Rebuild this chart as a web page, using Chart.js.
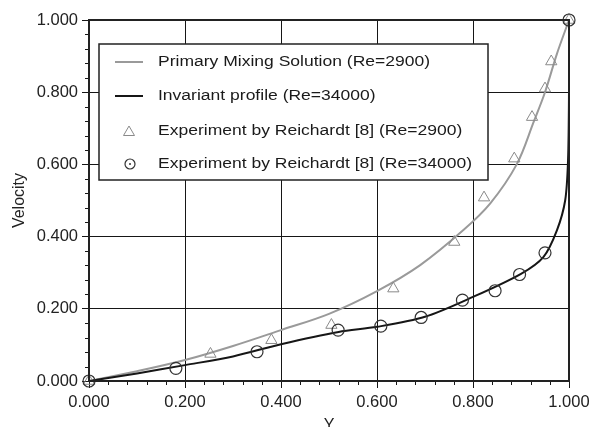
<!DOCTYPE html>
<html>
<head>
<meta charset="utf-8">
<script src="https://cdn.jsdelivr.net/npm/chart.js@4.4.1/dist/chart.umd.min.js"></script>
<style>
  html, body { margin: 0; padding: 0; background: #fff; }
  #wrap { width: 591px; height: 427px; position: relative; }
</style>
</head>
<body>
<div id="wrap"><canvas id="chart"></canvas></div>
<script>
// ====== DATA ======
const mixingX = [0, 0.1, 0.2, 0.3, 0.4, 0.5, 0.6, 0.69, 0.78, 0.836, 0.891, 0.927, 0.95, 0.975, 1.0];
const mixingY = [0, 0.027, 0.058, 0.097, 0.141, 0.186, 0.249, 0.321, 0.418, 0.492, 0.6, 0.72, 0.8, 0.907, 1.0];

const invariantX = [0, 0.1, 0.2, 0.3, 0.4, 0.52, 0.6, 0.7, 0.8, 0.9, 0.947, 0.975, 0.992, 0.998, 1.0, 1.0];
const invariantY = [0, 0.021, 0.044, 0.068, 0.102, 0.136, 0.150, 0.178, 0.233, 0.297, 0.344, 0.418, 0.5, 0.611, 0.8, 1.0];

const expLowX = [0, 0.253, 0.380, 0.505, 0.634, 0.761, 0.823, 0.886, 0.923, 0.950, 0.963, 1.0];
const expLowY = [0, 0.075, 0.113, 0.155, 0.256, 0.385, 0.508, 0.616, 0.731, 0.810, 0.885, 1.0];

const expHighX = [0, 0.181, 0.350, 0.519, 0.608, 0.692, 0.778, 0.846, 0.897, 0.950, 1.0];
const expHighY = [0, 0.035, 0.081, 0.141, 0.152, 0.176, 0.224, 0.250, 0.295, 0.355, 1.0];

const labels = [
  'Primary Mixing Solution (Re=2900)',
  'Invariant profile (Re=34000)',
  'Experiment by Reichardt [8] (Re=2900)',
  'Experiment by Reichardt [8] (Re=34000)'
];

const pts = (xs, ys) => xs.map((x, i) => ({ x, y: ys[i] }));

const GRAY = '#9a9a9a';
const DARK = '#161616';
const FONT = 'Liberation Sans, Arial, Helvetica, sans-serif';

// ====== PLUGINS ======
const frame = {
  id: 'frame',
  afterDraw(c) {
    const { ctx, chartArea: a, scales } = c;
    ctx.save();
    // minor ticks every 0.04
    ctx.strokeStyle = DARK;
    ctx.lineWidth = 1;
    ctx.beginPath();
    for (let i = 1; i < 25; i++) {
      if (i % 5 === 0) continue;
      const v = i * 0.04;
      const px = Math.round(scales.x.getPixelForValue(v)) + 0.5;
      ctx.moveTo(px, a.bottom); ctx.lineTo(px, a.bottom + 4);
      const py = Math.round(scales.y.getPixelForValue(v)) + 0.5;
      ctx.moveTo(a.left - 4, py); ctx.lineTo(a.left, py);
    }
    ctx.stroke();
    // plot border
    ctx.lineWidth = 2;
    ctx.strokeStyle = '#222';
    ctx.strokeRect(a.left, a.top, a.right - a.left, a.bottom - a.top);

    // legend box
    const bx = 99, by = 44, bw = 389, bh = 136;
    ctx.fillStyle = '#fff';
    ctx.fillRect(bx, by, bw, bh);
    ctx.lineWidth = 1.5;
    ctx.strokeStyle = '#222';
    ctx.strokeRect(bx, by, bw, bh);

    const rows = [62, 96, 131, 164];
    ctx.font = '15.5px ' + FONT;
    ctx.textBaseline = 'middle';
    // the reference type is a little wider than Liberation Sans
    const stretch = 314 / ctx.measureText(labels[3]).width;
    c.data.datasets.forEach((ds, i) => {
      const y = rows[i];
      ctx.save();
      if (ds.showLine) {
        ctx.strokeStyle = ds.borderColor;
        ctx.lineWidth = ds.borderWidth;
        ctx.beginPath(); ctx.moveTo(115, y); ctx.lineTo(143, y); ctx.stroke();
      } else if (ds.pointStyle === 'triangle') {
        ctx.strokeStyle = ds.pointBorderColor; ctx.lineWidth = 1;
        ctx.beginPath();
        ctx.moveTo(129, y - 5); ctx.lineTo(134.5, y + 4.5); ctx.lineTo(123.5, y + 4.5); ctx.closePath();
        ctx.stroke();
      } else {
        ctx.strokeStyle = ds.pointBorderColor; ctx.lineWidth = 1.2;
        ctx.beginPath(); ctx.arc(130, y, 5, 0, Math.PI * 2); ctx.stroke();
        ctx.beginPath(); ctx.arc(130, y, 1, 0, Math.PI * 2); ctx.fillStyle = ds.pointBorderColor; ctx.fill();
      }
      ctx.restore();
      ctx.save();
      ctx.translate(158, y);
      ctx.scale(stretch, 1);
      ctx.fillStyle = '#1a1a1a';
      ctx.fillText(ds.label, 0, 0);
      ctx.restore();
    });
    ctx.restore();
  }
};

// ====== CHART ======
const ctx = document.getElementById('chart').getContext('2d');
new Chart(ctx, {
  type: 'scatter',
  data: {
    datasets: [
      { label: labels[0], data: pts(mixingX, mixingY), showLine: true, borderColor: GRAY, borderWidth: 2,
        pointRadius: 0, tension: 0.35, order: 4, clip: 4 },
      { label: labels[1], data: pts(invariantX, invariantY), showLine: true, borderColor: DARK, borderWidth: 2,
        pointRadius: 0, tension: 0.3, order: 3, clip: 4 },
      { label: labels[2], data: pts(expLowX, expLowY), showLine: false, pointStyle: 'triangle', pointRadius: 6.5,
        pointBorderColor: '#8a8a8a', pointBackgroundColor: 'rgba(0,0,0,0)', pointBorderWidth: 1, order: 2, clip: 10 },
      { label: labels[3], data: pts(expHighX, expHighY), showLine: false, pointStyle: 'circle', pointRadius: 6,
        pointBorderColor: '#333', pointBackgroundColor: 'rgba(0,0,0,0)', pointBorderWidth: 1.2, order: 1, clip: 10 }
    ]
  },
  options: {
    responsive: true,
    maintainAspectRatio: false,
    animation: false,
    layout: { padding: { top: 20, right: 22, left: 0, bottom: 0 } },
    plugins: { legend: { display: false }, tooltip: { enabled: false } },
    scales: {
      x: {
        type: 'linear', min: 0, max: 1,
        afterFit: s => { s.height = 46; s.paddingLeft = 0; s.paddingRight = 0; },
        ticks: { stepSize: 0.2, callback: v => v.toFixed(3), color: '#222', padding: 5,
                 maxRotation: 0, font: { family: FONT, size: 16.5 } },
        grid: { color: DARK, lineWidth: 1, tickLength: 7 },
        border: { display: false },
        title: { display: true, text: 'Y', color: '#222', font: { family: FONT, size: 16 }, padding: { bottom: -8 } }
      },
      y: {
        type: 'linear', min: 0, max: 1,
        afterFit: s => { s.width = 89; s.paddingTop = 0; s.paddingBottom = 0; },
        ticks: { stepSize: 0.2, callback: v => v.toFixed(3), color: '#222', padding: 4,
                 font: { family: FONT, size: 16.5 } },
        grid: { color: DARK, lineWidth: 1, tickLength: 7 },
        border: { display: false },
        title: { display: true, text: 'Velocity', color: '#222', font: { family: FONT, size: 16 }, padding: { top: 10 } }
      }
    }
  },
  plugins: [frame]
});
</script>
</body>
</html>
